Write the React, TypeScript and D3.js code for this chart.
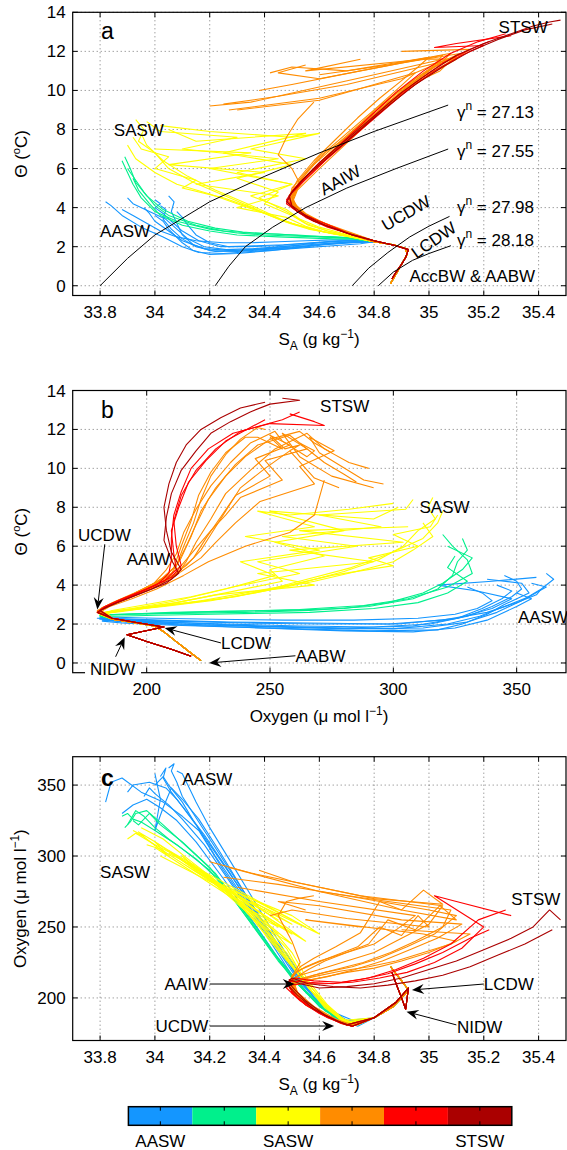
import React from 'react';
import * as d3 from 'd3';

// each profile point: [SA (g/kg), Theta (degC), Oxygen (umol/l)], surface to depth
type P = [number, number, number];

const classColors = ['#1496ff', '#00f08c', '#ffff00', '#ff8c00', '#ff0000', '#aa0000'];
const colorbarLabels = ['AASW', '', 'SASW', '', '', 'STSW'];

const sTicks = [33.8, 34, 34.2, 34.4, 34.6, 34.8, 35, 35.2, 35.4];
const thetaTicks = [0, 2, 4, 6, 8, 10, 12, 14];
const oxyTicks = [200, 250, 300, 350];

// deep tails below UCDW
const deepNormal: P[] = [
  [34.8, 2.25, 186], [34.87, 2.1, 194], [34.915, 1.9, 203], [34.92, 1.6, 207],
  [34.9, 1.1, 212], [34.88, 0.6, 217], [34.86, 0.12, 222],
];
const deepNidw: P[] = [
  [34.8, 2.3, 186], [34.88, 2.05, 197], [34.925, 1.85, 207], [34.915, 1.45, 192],
  [34.9, 1.1, 200], [34.88, 0.7, 210], [34.865, 0.35, 218],
];

const aaswProfiles: P[][] = [
  [[33.82, 4.3, 338], [33.84, 4.1, 352], [33.88, 3.6, 355], [33.95, 3.0, 345], [34.03, 2.5, 338], [34.1, 2.0, 328], [34.16, 1.7, 318], [34.25, 1.65, 290], [34.35, 1.75, 262], [34.45, 1.85, 234], [34.55, 1.95, 208], [34.65, 2.05, 190], [34.75, 2.15, 182]],
  [[34.05, 4.6, 362], [34.07, 4.3, 365], [34.06, 3.8, 360], [34.08, 3.2, 352], [34.1, 2.6, 342], [34.14, 2.1, 330], [34.2, 1.8, 312], [34.3, 1.75, 282], [34.4, 1.85, 252], [34.5, 1.95, 222], [34.6, 2.1, 198], [34.7, 2.2, 184]],
  [[33.96, 4.0, 342], [33.98, 3.7, 348], [34.0, 3.3, 344], [34.05, 2.8, 336], [34.1, 2.3, 326], [34.18, 1.9, 308], [34.28, 1.8, 280], [34.4, 1.9, 246], [34.5, 2.05, 216], [34.6, 2.2, 194], [34.7, 2.3, 182]],
  [[34.02, 4.1, 356], [34.04, 3.9, 362], [34.03, 3.4, 355], [34.06, 2.9, 345], [34.1, 2.4, 335], [34.15, 2.0, 322], [34.22, 1.75, 300], [34.32, 1.8, 272], [34.42, 1.9, 242], [34.52, 2.0, 213], [34.62, 2.15, 192], [34.72, 2.25, 182]],
  [[33.88, 3.9, 330], [33.92, 3.6, 336], [33.97, 3.2, 340], [34.02, 2.8, 334], [34.08, 2.5, 325], [34.15, 2.3, 310], [34.25, 2.2, 284], [34.35, 2.2, 256], [34.45, 2.25, 228], [34.55, 2.3, 204], [34.65, 2.35, 187], [34.72, 2.35, 181]],
  [[34.0, 3.6, 350], [34.03, 3.3, 356], [34.05, 2.9, 350], [34.1, 2.2, 338], [34.14, 1.8, 325], [34.2, 1.6, 308], [34.3, 1.65, 280], [34.42, 1.8, 246], [34.52, 1.95, 214], [34.62, 2.1, 192], [34.72, 2.2, 182]],
  [[33.9, 4.5, 345], [33.92, 4.2, 350], [33.98, 3.8, 352], [34.04, 3.4, 348], [34.08, 2.9, 340], [34.12, 2.4, 330], [34.18, 2.0, 315], [34.26, 1.85, 292], [34.36, 1.9, 262], [34.46, 2.0, 232], [34.56, 2.1, 206], [34.66, 2.2, 188], [34.74, 2.25, 181]],
  [[34.08, 3.8, 360], [34.1, 3.5, 358], [34.12, 3.1, 350], [34.15, 2.6, 338], [34.2, 2.2, 320], [34.27, 2.0, 298], [34.37, 2.05, 266], [34.47, 2.1, 234], [34.57, 2.2, 205], [34.67, 2.3, 186], [34.74, 2.3, 180]],
  [[34.0, 4.4, 358], [34.02, 4.2, 340], [34.0, 4.0, 318], [34.03, 3.7, 334], [34.06, 3.3, 348], [34.1, 2.8, 340], [34.16, 2.3, 326], [34.24, 2.0, 302], [34.34, 2.0, 270], [34.44, 2.05, 240], [34.54, 2.15, 210], [34.64, 2.25, 190], [34.73, 2.3, 181]],
];

const transitionProfiles: P[][] = [
  [[33.88, 6.4, 328], [33.9, 5.8, 330], [33.92, 5.2, 326], [33.95, 4.5, 324], [34.0, 3.8, 318], [34.08, 3.3, 308], [34.2, 2.9, 290], [34.3, 2.7, 266], [34.4, 2.6, 240], [34.5, 2.55, 214], [34.6, 2.5, 194], [34.7, 2.45, 182]],
  [[33.9, 6.0, 322], [33.93, 5.4, 332], [33.96, 4.8, 328], [34.0, 4.1, 320], [34.05, 3.6, 312], [34.15, 3.1, 298], [34.25, 2.8, 280], [34.35, 2.7, 255], [34.45, 2.65, 228], [34.55, 2.55, 205], [34.65, 2.5, 188], [34.72, 2.45, 181]],
  [[33.92, 5.5, 325], [33.94, 4.9, 322], [33.98, 4.2, 330], [34.02, 3.6, 322], [34.1, 3.1, 310], [34.2, 2.8, 292], [34.3, 2.6, 266], [34.45, 2.5, 226], [34.55, 2.45, 204], [34.65, 2.4, 187], [34.72, 2.4, 181]],
  [[33.89, 6.6, 320], [33.91, 6.0, 324], [33.93, 5.3, 330], [33.97, 4.6, 332], [34.03, 3.9, 322], [34.12, 3.3, 306], [34.22, 2.95, 288], [34.32, 2.75, 262], [34.42, 2.65, 235], [34.52, 2.6, 210], [34.62, 2.5, 191], [34.71, 2.45, 181]],
];

const saswProfiles: P[][] = [
  [[33.92, 7.6, 318], [33.95, 7.0, 315], [34.05, 6.6, 300], [34.0, 6.0, 310], [34.15, 5.4, 290], [34.1, 5.0, 300], [34.25, 4.5, 275], [34.35, 4.0, 258], [34.42, 3.6, 240], [34.5, 3.2, 222], [34.57, 2.9, 205], [34.65, 2.65, 190], [34.72, 2.5, 181]],
  [[33.97, 8.4, 308], [34.02, 7.9, 305], [34.3, 7.6, 270], [34.1, 7.0, 295], [34.45, 6.5, 255], [34.2, 6.0, 285], [34.5, 5.2, 245], [34.35, 4.6, 262], [34.48, 3.9, 235], [34.53, 3.4, 218], [34.6, 3.0, 200], [34.68, 2.7, 186], [34.74, 2.5, 181]],
  [[33.9, 7.2, 312], [33.93, 6.5, 316], [34.0, 5.8, 308], [34.08, 5.2, 300], [34.2, 4.7, 285], [34.3, 4.2, 268], [34.4, 3.7, 248], [34.47, 3.3, 230], [34.55, 3.0, 210], [34.62, 2.75, 194], [34.7, 2.55, 182]],
  [[34.05, 8.0, 302], [34.15, 7.4, 292], [34.55, 7.8, 250], [34.25, 6.8, 280], [34.5, 6.2, 252], [34.3, 5.5, 272], [34.45, 4.8, 250], [34.4, 4.2, 255], [34.5, 3.6, 232], [34.56, 3.1, 212], [34.63, 2.8, 195], [34.7, 2.6, 183]],
  [[33.95, 7.8, 320], [33.97, 7.2, 318], [34.03, 6.4, 312], [34.12, 5.6, 298], [34.22, 4.9, 283], [34.32, 4.3, 265], [34.4, 3.8, 250], [34.46, 3.4, 236], [34.52, 3.1, 218], [34.6, 2.8, 198], [34.68, 2.6, 184]],
  [[34.0, 7.0, 306], [34.35, 6.8, 262], [34.05, 6.2, 304], [34.4, 5.8, 258], [34.15, 5.2, 292], [34.45, 4.6, 245], [34.3, 4.0, 268], [34.48, 3.5, 228], [34.55, 3.05, 210], [34.62, 2.75, 193], [34.7, 2.55, 182]],
  [[34.02, 8.2, 300], [34.2, 7.9, 282], [34.5, 7.6, 258], [34.6, 7.8, 245], [34.35, 7.0, 268], [34.55, 6.5, 240], [34.3, 5.8, 270], [34.5, 5.2, 238], [34.38, 4.5, 252], [34.48, 3.8, 232], [34.55, 3.2, 212], [34.63, 2.8, 194], [34.7, 2.6, 183]],
  [[33.93, 8.5, 316], [33.96, 8.0, 314], [33.94, 7.4, 317], [34.0, 6.8, 310], [34.05, 6.0, 304], [34.14, 5.3, 294], [34.24, 4.7, 280], [34.34, 4.1, 262], [34.42, 3.6, 244], [34.49, 3.2, 226], [34.56, 2.9, 207], [34.64, 2.7, 191], [34.71, 2.5, 181]],
];

const subantarcticProfiles: P[][] = [
  [[34.25, 9.3, 285], [34.45, 9.7, 280], [34.7, 10.3, 272], [35.0, 11.3, 262], [35.1, 11.7, 258], [35.02, 11.2, 245], [34.92, 10.2, 236], [34.82, 9.0, 228], [34.72, 7.8, 222], [34.62, 6.5, 218], [34.54, 5.4, 214], [34.5, 4.6, 210], [34.52, 3.9, 202], [34.58, 3.4, 193], [34.66, 2.9, 184], [34.72, 2.6, 180]],
  [[34.6, 10.8, 275], [34.85, 11.3, 268], [35.08, 11.9, 262], [35.05, 11.5, 250], [34.95, 10.6, 240], [34.86, 9.6, 232], [34.76, 8.4, 225], [34.66, 7.1, 220], [34.58, 6.0, 216], [34.52, 5.0, 212], [34.5, 4.3, 206], [34.55, 3.6, 196], [34.63, 3.1, 187], [34.7, 2.7, 181]],
  [[34.38, 10.0, 290], [34.5, 10.3, 282], [34.75, 11.0, 272], [35.05, 11.8, 265], [35.0, 11.0, 252], [34.9, 9.9, 242], [34.8, 8.7, 232], [34.7, 7.4, 226], [34.6, 6.2, 220], [34.53, 5.2, 216], [34.5, 4.5, 212], [34.53, 3.8, 200], [34.6, 3.3, 191], [34.68, 2.85, 183], [34.72, 2.6, 180]],
  [[34.55, 11.3, 262], [34.45, 10.9, 268], [34.6, 10.6, 265], [34.9, 11.4, 255], [35.12, 11.9, 252], [35.03, 11.3, 242], [34.93, 10.3, 234], [34.83, 9.1, 226], [34.73, 7.9, 220], [34.63, 6.7, 215], [34.55, 5.6, 212], [34.5, 4.8, 208], [34.5, 4.1, 203], [34.56, 3.5, 194], [34.65, 3.0, 185], [34.72, 2.65, 180]],
  [[34.58, 9.4, 272], [34.52, 8.5, 270], [34.48, 7.6, 268], [34.45, 6.7, 258], [34.5, 6.0, 240], [34.53, 5.2, 225], [34.5, 4.5, 215], [34.52, 3.8, 204], [34.58, 3.3, 194], [34.66, 2.9, 185], [34.72, 2.6, 181]],
  [[34.3, 9.0, 278], [34.6, 9.5, 268], [34.95, 10.9, 258], [34.88, 10.0, 248], [34.8, 9.0, 238], [34.7, 7.8, 232], [34.6, 6.6, 226], [34.55, 5.8, 222], [34.5, 5.0, 216], [34.49, 4.3, 208], [34.54, 3.7, 198], [34.62, 3.2, 188], [34.7, 2.75, 181]],
  [[34.75, 11.6, 250], [34.55, 11.0, 255], [34.98, 11.6, 245], [35.1, 11.6, 240], [35.0, 10.8, 232], [34.9, 9.8, 226], [34.8, 8.6, 221], [34.7, 7.3, 218], [34.6, 6.0, 214], [34.52, 4.9, 211], [34.5, 4.2, 205], [34.55, 3.6, 195], [34.64, 3.1, 186], [34.72, 2.7, 180]],
  [[34.9, 12.0, 248], [35.15, 12.1, 245], [35.08, 11.5, 238], [34.98, 10.7, 232], [34.88, 9.6, 226], [34.78, 8.4, 222], [34.68, 7.2, 219], [34.58, 6.0, 215], [34.52, 5.0, 212], [34.49, 4.4, 207], [34.53, 3.8, 199], [34.6, 3.25, 190], [34.68, 2.85, 182], [34.72, 2.6, 180]],
  [[34.27, 9.0, 292], [34.6, 9.6, 275], [34.9, 10.6, 262], [35.1, 11.8, 255], [35.04, 11.0, 265], [34.95, 10.4, 248], [34.85, 9.4, 255], [34.78, 8.5, 238], [34.7, 7.6, 232], [34.62, 6.8, 226], [34.56, 5.9, 220], [34.51, 5.0, 214], [34.5, 4.3, 207], [34.55, 3.7, 197], [34.63, 3.1, 187], [34.71, 2.7, 181]],
  [[34.42, 10.9, 258], [34.5, 11.2, 262], [34.7, 11.0, 256], [35.0, 11.7, 250], [34.96, 11.2, 258], [34.9, 10.5, 244], [34.82, 9.6, 250], [34.74, 8.6, 236], [34.66, 7.5, 230], [34.58, 6.4, 224], [34.52, 5.4, 219], [34.49, 4.6, 212], [34.51, 4.0, 204], [34.57, 3.4, 194], [34.65, 2.95, 185], [34.72, 2.6, 180]],
  [[34.2, 9.2, 296], [34.35, 9.4, 288], [34.8, 10.8, 270], [35.05, 11.6, 266], [34.98, 10.9, 276], [34.9, 10.1, 262], [34.82, 9.2, 268], [34.75, 8.3, 246], [34.66, 7.2, 236], [34.58, 6.2, 228], [34.53, 5.4, 222], [34.5, 4.7, 214], [34.51, 4.0, 205], [34.57, 3.45, 195], [34.65, 3.0, 185], [34.72, 2.65, 180]],
];
const subantarcticNidw = [false, false, false, false, true, true, true, true, false, false, true];

const frontalProfiles: P[][] = [
  [[35.3, 12.8, 258], [35.1, 12.4, 268], [35.02, 12.2, 272], [35.2, 12.3, 250], [35.12, 11.8, 235], [35.02, 11.0, 225], [34.92, 10.0, 218], [34.82, 8.8, 214], [34.72, 7.6, 211], [34.62, 6.4, 210], [34.54, 5.3, 210], [34.49, 4.6, 209], [34.5, 4.0, 204], [34.55, 3.5, 195], [34.63, 3.0, 186], [34.7, 2.7, 181]],
  [[35.22, 12.5, 248], [35.15, 12.1, 242], [35.05, 11.4, 232], [34.95, 10.4, 224], [34.85, 9.3, 217], [34.75, 8.0, 213], [34.65, 6.8, 210], [34.56, 5.6, 211], [34.5, 4.8, 212], [34.48, 4.2, 207], [34.53, 3.7, 198], [34.6, 3.2, 189], [34.68, 2.8, 182], [34.72, 2.6, 180]],
  [[35.28, 12.9, 262], [35.18, 12.5, 255], [35.08, 11.9, 238], [34.98, 11.0, 228], [34.88, 9.9, 220], [34.78, 8.6, 214], [34.68, 7.3, 211], [34.58, 6.0, 212], [34.51, 5.0, 214], [34.48, 4.4, 210], [34.52, 3.8, 200], [34.6, 3.3, 190], [34.67, 2.9, 183], [34.72, 2.6, 180]],
];

const stswProfiles: P[][] = [
  [[35.48, 13.6, 255], [35.44, 13.5, 262], [35.38, 13.3, 250], [35.3, 12.9, 242], [35.2, 12.4, 234], [35.1, 11.8, 226], [35.0, 10.9, 220], [34.9, 9.9, 214], [34.8, 8.7, 210], [34.7, 7.5, 208], [34.6, 6.3, 207], [34.53, 5.3, 210], [34.49, 4.6, 213], [34.5, 4.1, 208], [34.55, 3.6, 198], [34.62, 3.1, 188], [34.7, 2.7, 181]],
  [[35.45, 13.4, 248], [35.35, 13.1, 238], [35.25, 12.6, 230], [35.15, 12.0, 222], [35.05, 11.2, 216], [34.95, 10.3, 212], [34.85, 9.2, 209], [34.75, 8.0, 207], [34.65, 6.8, 208], [34.56, 5.7, 210], [34.5, 4.8, 214], [34.48, 4.3, 210], [34.52, 3.8, 202], [34.58, 3.3, 192], [34.66, 2.9, 184], [34.72, 2.6, 180]],
];

// neutral density contours in SA-Theta space
const gammaLines = [
  { label: '27.13', pts: [[33.8, 0], [33.9, 1.4], [34.0, 2.6], [34.2, 4.3], [34.4, 5.6], [34.6, 6.8], [34.8, 7.9], [35.07, 9.25]], lx: 35.102, ly: 8.59 },
  { label: '27.55', pts: [[34.22, 0], [34.27, 1.0], [34.33, 2.0], [34.43, 3.0], [34.55, 4.0], [34.7, 5.0], [34.88, 6.0], [35.07, 7.0]], lx: 35.102, ly: 6.59 },
  { label: '27.98', pts: [[34.72, 0], [34.78, 0.9], [34.85, 1.7], [34.93, 2.5], [35.0, 3.05], [35.075, 3.55]], lx: 35.102, ly: 3.72 },
  { label: '28.18', pts: [[34.815, 0], [34.87, 0.7], [34.94, 1.3], [35.0, 1.65], [35.08, 2.05]], lx: 35.102, ly: 2.06 },
];

const groups = [
  { color: classColors[0], profiles: aaswProfiles, nidw: aaswProfiles.map(() => false) },
  { color: classColors[1], profiles: transitionProfiles, nidw: transitionProfiles.map(() => false) },
  { color: classColors[2], profiles: saswProfiles, nidw: saswProfiles.map(() => false) },
  { color: classColors[3], profiles: subantarcticProfiles, nidw: subantarcticNidw },
  { color: classColors[4], profiles: frontalProfiles, nidw: frontalProfiles.map(() => true) },
  { color: classColors[5], profiles: stswProfiles, nidw: stswProfiles.map(() => true) },
];

const FONT = '"Liberation Sans", Arial, Helvetica, sans-serif';
const W = 567;
const H = 1150;

const xS = d3.scaleLinear().domain([33.7, 35.5]).range([72.7, 566]);
const xO = d3.scaleLinear().domain([170, 370]).range([72.7, 566]);
const yTa = d3.scaleLinear().domain([-0.5, 14]).range([295.5, 12.3]);
const yTb = d3.scaleLinear().domain([-0.5, 14]).range([672.7, 390.5]);
const yOc = d3.scaleLinear().domain([170, 370]).range([1040.5, 756.7]);

function Arrow({ x1, y1, x2, y2 }: { x1: number; y1: number; x2: number; y2: number }) {
  const a = Math.atan2(y2 - y1, x2 - x1);
  const c = Math.cos(a), s = Math.sin(a);
  const L = 12, hw = 5, N = 8;
  const bx = x2 - L * c, by = y2 - L * s;
  const pts = [[x2, y2], [bx - hw * s, by + hw * c], [x2 - N * c, y2 - N * s], [bx + hw * s, by - hw * c]];
  return (
    <g>
      <line x1={x1} y1={y1} x2={x2 - N * c} y2={y2 - N * s} stroke="#000" strokeWidth={1} />
      <polygon points={pts.map((p) => p.join(',')).join(' ')} fill="#000" />
    </g>
  );
}

function Axes({ id, x, y, xTicks, yTicks, children }: any) {
  const [x0, x1] = x.range();
  const [yb, yt] = y.range();
  const tl = 5;
  return (
    <g>
      <defs>
        <clipPath id={id}>
          <rect x={x0} y={yt} width={x1 - x0} height={yb - yt} />
        </clipPath>
      </defs>
      <g stroke="#555" strokeWidth={0.8} strokeDasharray="1 3">
        {xTicks.map((t: number) => <line key={'gx' + t} x1={x(t)} x2={x(t)} y1={yt} y2={yb} />)}
        {yTicks.map((t: number) => <line key={'gy' + t} x1={x0} x2={x1} y1={y(t)} y2={y(t)} />)}
      </g>
      <g clipPath={`url(#${id})`}>{children}</g>
      <g stroke="#000" strokeWidth={1}>
        {xTicks.map((t: number) => (
          <g key={'tx' + t}>
            <line x1={x(t)} x2={x(t)} y1={yb} y2={yb - tl} />
            <line x1={x(t)} x2={x(t)} y1={yt} y2={yt + tl} />
          </g>
        ))}
        {yTicks.map((t: number) => (
          <g key={'ty' + t}>
            <line x1={x0} x2={x0 + tl} y1={y(t)} y2={y(t)} />
            <line x1={x1} x2={x1 - tl} y1={y(t)} y2={y(t)} />
          </g>
        ))}
      </g>
      <rect x={x0} y={yt} width={x1 - x0} height={yb - yt} fill="none" stroke="#000" strokeWidth={1.2} />
      <g fontFamily={FONT} fontSize={17} fill="#000">
        {xTicks.map((t: number) => (
          <text key={'lx' + t} x={x(t)} y={yb + 22} textAnchor="middle">{t}</text>
        ))}
        {yTicks.map((t: number) => (
          <text key={'ly' + t} x={x0 - 7} y={y(t) + 6} textAnchor="end">{t}</text>
        ))}
      </g>
    </g>
  );
}

function Profiles({ x, y, fx, fy }: any) {
  const line = d3.line<P>().x((d) => x(fx(d))).y((d) => y(fy(d)));
  return (
    <g fill="none" strokeWidth={1.1} strokeLinejoin="round">
      {groups.map((g, gi) =>
        g.profiles.map((p, pi) => (
          <path key={gi + '-' + pi} d={line([...p, ...(g.nidw[pi] ? deepNidw : deepNormal)]) || ''} stroke={g.color} />
        ))
      )}
    </g>
  );
}

const T = ({ x, y, children, ...rest }: any) => (
  <text x={x} y={y} fontFamily={FONT} fontSize={17} fill="#000" {...rest}>{children}</text>
);

function ThetaLabel({ cy }: { cy: number }) {
  return (
    <T x={0} y={0} textAnchor="middle" transform={`translate(27,${cy}) rotate(-90)`}>
      Θ (<tspan dy={-7} fontSize={11}>o</tspan><tspan dy={7}>C)</tspan>
    </T>
  );
}

function SALabel({ y }: { y: number }) {
  return (
    <T x={319} y={y} textAnchor="middle">
      S<tspan dy={5} fontSize={12}>A</tspan><tspan dy={-5}> (g kg</tspan>
      <tspan dy={-7} fontSize={12}>−1</tspan><tspan dy={7}>)</tspan>
    </T>
  );
}

function OxyText() {
  return (
    <>
      Oxygen (μ mol l<tspan dy={-7} fontSize={12}>−1</tspan><tspan dy={7}>)</tspan>
    </>
  );
}

export default function App() {
  const gLine = d3.line<number[]>().x((d) => xS(d[0])).y((d) => yTa(d[1]));
  const cbX = d3.scaleLinear().domain([0, 6]).range([128.4, 511.8]);
  const cbTop = 1106.7, cbBot = 1125.3;
  return (
    <svg width={W} height={H} style={{ position: 'absolute', left: 0, top: 0, background: '#fff' }}>
      {/* panel a */}
      <Axes id="clipA" x={xS} y={yTa} xTicks={sTicks} yTicks={thetaTicks}>
        <Profiles x={xS} y={yTa} fx={(d: P) => d[0]} fy={(d: P) => d[1]} />
        {gammaLines.map((g) => (
          <path key={g.label} d={gLine(g.pts) || ''} fill="none" stroke="#000" strokeWidth={1} />
        ))}
      </Axes>
      <T x={xS(33.803)} y={yTa(12.63)} fontSize={23}>a</T>
      <T x={xS(35.254)} y={yTa(12.94)}>STSW</T>
      <T x={xS(33.85)} y={yTa(7.67)}>SASW</T>
      <T x={xS(33.8)} y={yTa(2.49)}>AASW</T>
      <T x={xS(34.929)} y={yTa(0.19)}>AccBW &amp; AABW</T>
      {[
        { t: 'AAIW', s: 34.676, th: 5.41, a: -29 },
        { t: 'UCDW', s: 34.916, th: 3.72, a: -30 },
        { t: 'LCDW', s: 35.017, th: 2.34, a: -35 },
      ].map((l) => (
        <T key={l.t} x={0} y={0} dy="0.35em" textAnchor="middle" transform={`translate(${xS(l.s)},${yTa(l.th)}) rotate(${l.a})`}>
          {l.t}
        </T>
      ))}
      {gammaLines.map((g) => (
        <T key={'gl' + g.label} x={xS(g.lx)} y={yTa(g.ly)}>
          γ<tspan dy={-8} fontSize={12}>n</tspan><tspan dy={8}> = {g.label}</tspan>
        </T>
      ))}
      <ThetaLabel cy={153.9} />
      <SALabel y={345} />

      {/* panel b */}
      <Axes id="clipB" x={xO} y={yTb} xTicks={oxyTicks} yTicks={thetaTicks}>
        <Profiles x={xO} y={yTb} fx={(d: P) => d[2]} fy={(d: P) => d[1]} />
      </Axes>
      <T x={xO(181.5)} y={yTb(12.6)} fontSize={23}>b</T>
      <T x={xO(270.3)} y={yTb(12.9)}>STSW</T>
      <T x={xO(310.6)} y={yTb(7.72)}>SASW</T>
      <T x={xO(172.1)} y={yTb(6.27)}>UCDW</T>
      <T x={xO(191.9)} y={yTb(5.04)}>AAIW</T>
      <T x={xO(350.5)} y={yTb(2.07)}>AASW</T>
      <T x={xO(230.1)} y={yTb(0.72)}>LCDW</T>
      <T x={xO(260.3)} y={yTb(0.05)}>AABW</T>
      <rect x={xO(175)} y={yTb(-0.1)} width={56} height={16} fill="#fff" />
      <T x={xO(177)} y={yTb(-0.62)}>NIDW</T>
      <Arrow x1={xO(183)} y1={yTb(6.1)} x2={xO(180)} y2={yTb(2.75)} />
      <Arrow x1={xO(230.1)} y1={yTb(1.03)} x2={xO(207.3)} y2={yTb(1.8)} />
      <Arrow x1={xO(260.3)} y1={yTb(0.37)} x2={xO(225.3)} y2={yTb(0.0)} />
      <Arrow x1={xO(187.4)} y1={yTb(0.32)} x2={xO(191.1)} y2={yTb(1.32)} />
      <ThetaLabel cy={531.6} />
      <T x={319} y={722} textAnchor="middle"><OxyText /></T>

      {/* panel c */}
      <Axes id="clipC" x={xS} y={yOc} xTicks={sTicks} yTicks={oxyTicks}>
        <Profiles x={xS} y={yOc} fx={(d: P) => d[0]} fy={(d: P) => d[2]} />
      </Axes>
      <T x={xS(33.803)} y={yOc(349.4)} fontSize={23} fontWeight="bold">c</T>
      <T x={xS(34.1)} y={yOc(350)}>AASW</T>
      <T x={xS(33.8)} y={yOc(284.5)}>SASW</T>
      <T x={xS(35.3)} y={yOc(265.5)}>STSW</T>
      <T x={xS(34.035)} y={yOc(205.6)}>AAIW</T>
      <T x={xS(34.002)} y={yOc(176)}>UCDW</T>
      <T x={xS(35.2)} y={yOc(205.6)}>LCDW</T>
      <T x={xS(35.102)} y={yOc(175.5)}>NIDW</T>
      <Arrow x1={xS(34.2)} y1={yOc(209.8)} x2={xS(34.51)} y2={yOc(209.8)} />
      <Arrow x1={xS(34.2)} y1={yOc(180.2)} x2={xS(34.654)} y2={yOc(180.2)} />
      <Arrow x1={xS(35.2)} y1={yOc(209.8)} x2={xS(34.938)} y2={yOc(205.6)} />
      <Arrow x1={xS(35.1)} y1={yOc(181)} x2={xS(34.918)} y2={yOc(190.3)} />
      <T x={0} y={0} textAnchor="middle" transform={`translate(26,898.6) rotate(-90)`}><OxyText /></T>
      <SALabel y={1090} />

      {/* colorbar */}
      {classColors.map((c, i) => (
        <rect key={'cb' + i} x={cbX(i)} y={cbTop} width={cbX(i + 1) - cbX(i)} height={cbBot - cbTop} fill={c} />
      ))}
      <g stroke="#000" strokeWidth={1}>
        {classColors.map((c, i) => (
          <g key={'cbt' + i}>
            <line x1={cbX(i + 0.5)} x2={cbX(i + 0.5)} y1={cbTop} y2={cbTop + 4} />
            <line x1={cbX(i + 0.5)} x2={cbX(i + 0.5)} y1={cbBot} y2={cbBot - 4} />
          </g>
        ))}
      </g>
      <rect x={cbX(0)} y={cbTop} width={cbX(6) - cbX(0)} height={cbBot - cbTop} fill="none" stroke="#000" strokeWidth={1.5} />
      {colorbarLabels.map((l, i) =>
        l ? <T key={'cbl' + i} x={cbX(i + 0.5)} y={1146.5} textAnchor="middle">{l}</T> : null
      )}
    </svg>
  );
}
